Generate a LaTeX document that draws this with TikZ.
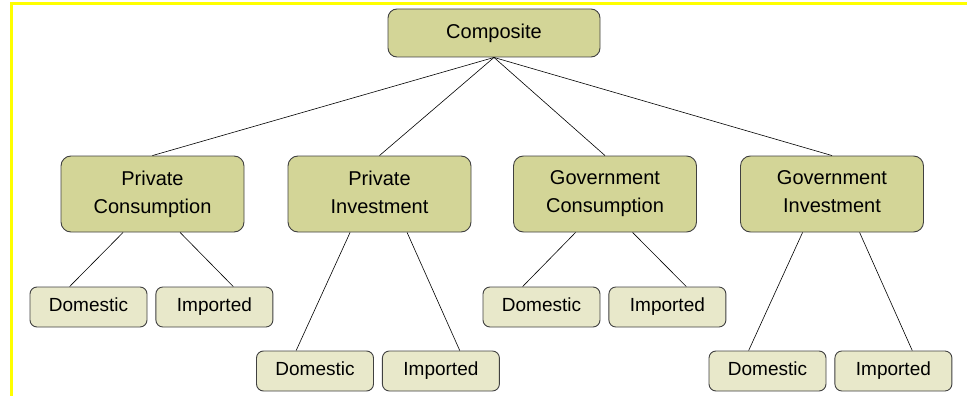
\documentclass[tikz,border=0pt]{standalone}
\usepackage{fontspec}
\setmainfont{Liberation Sans}
\usetikzlibrary{positioning,calc}

\definecolor{boxdark}{HTML}{D3D597}
\definecolor{boxlight}{HTML}{E8E8CA}
\definecolor{boxline}{HTML}{404040}
\definecolor{framey}{HTML}{FFFF00}

\begin{document}
\begin{tikzpicture}[
			x=1pt, y=-1pt,
			node distance=8pt,
			every node/.style={
					draw=boxline,
					line width=0.9pt,
					align=center,
					inner sep=0pt,
					font=\fontsize{20}{28}\selectfont,
					execute at end node={\vphantom{p}}
				},
			topbox/.style={fill=boxdark, rounded corners=9pt,
					minimum width=212pt, minimum height=48pt},
			midbox/.style={fill=boxdark, rounded corners=10pt,
					minimum width=183pt, minimum height=76pt},
			leafbox/.style={fill=boxlight, rounded corners=7pt,
					font=\fontsize{19}{26}\selectfont,
					minimum width=117pt, minimum height=40pt},
			link/.style={draw=black, line width=0.6pt}
		]

		\useasboundingbox (0,0) rectangle (967,396);

		% frame
		\draw[framey, line width=3pt] (11.5,396) -- (11.5,3.5) -- (967,3.5);

		\node (comp) [topbox] at (494,33) {Composite};

		\node (pc) [midbox] at (152.5,194) {Private\\Consumption};
		\node (pi) [midbox] at (379.5,194) {Private\\Investment};
		\node (gc) [midbox] at (605,194) {Government\\Consumption};
		\node (gi) [midbox] at (832,194) {Government\\Investment};

		\node (pc-dom) [leafbox] at (88.5,307) {Domestic};
		\node (pc-imp) [leafbox, right=of pc-dom] {Imported};
		\node (pi-dom) [leafbox] at (315,371) {Domestic};
		\node (pi-imp) [leafbox, right=of pi-dom] {Imported};
		\node (gc-dom) [leafbox] at (541.5,307) {Domestic};
		\node (gc-imp) [leafbox, right=of gc-dom] {Imported};
		\node (gi-dom) [leafbox] at (767.5,371) {Domestic};
		\node (gi-imp) [leafbox, right=of gi-dom] {Imported};

		\foreach \n in {pc,pi,gc,gi} {
				\draw[link] (comp.south) -- (\n.north);
				\draw[link] ($(\n.south west)!.34!(\n.south east)$)
				-- ($(\n-dom.north west)!.34!(\n-dom.north east)$);
				\draw[link] ($(\n.south west)!.65!(\n.south east)$)
				-- ($(\n-imp.north west)!.66!(\n-imp.north east)$);
			}

	\end{tikzpicture}
\end{document}
